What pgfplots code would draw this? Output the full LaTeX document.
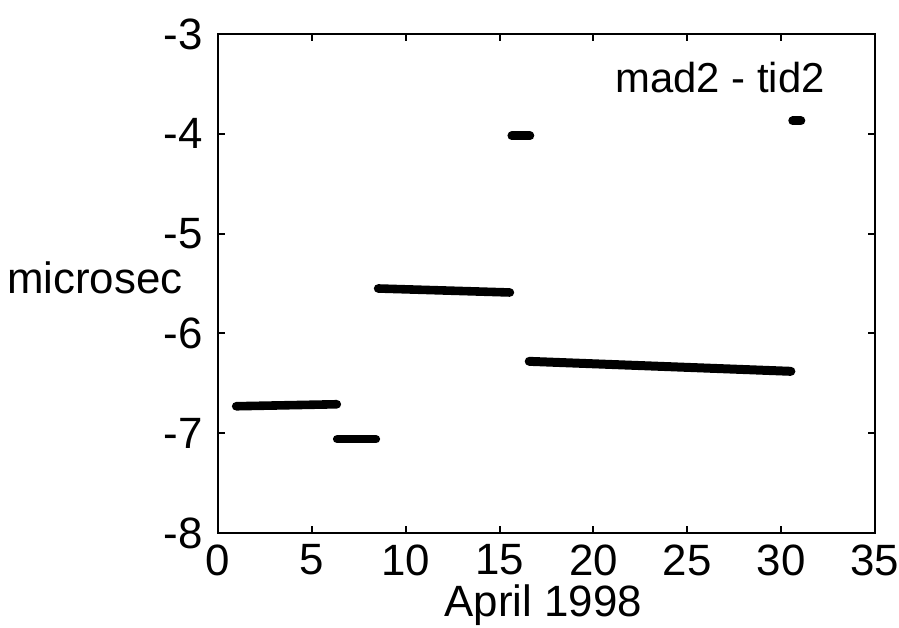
\documentclass[border=0pt]{standalone}
\usepackage{fontspec}
\setmainfont{Liberation Sans}
\usepackage{pgfplots}
\pgfplotsset{compat=1.18}
\begin{document}
\begin{tikzpicture}
\path[use as bounding box] (-109bp,-47.5bp) rectangle (340.5bp,266.5bp);
\begin{axis}[
  at={(0,0)}, anchor=south west,
  scale only axis, width=328.5bp, height=249.5bp,
  xmin=0, xmax=35, ymin=-8, ymax=-3,
  xtick={0,5,...,35}, ytick={-8,-7,...,-3},
  tick align=inside, major tick length=3.5bp,
  axis line style={line width=1.1bp}, tick style={line width=1bp, black},
  /pgf/number format/assume math mode=true,
  every tick label/.append style={font=\fontsize{22}{26}\selectfont},
  xticklabel style={inner sep=0pt, yshift=-5.5bp},
  yticklabel style={inner sep=2bp, xshift=-5.5bp},
  xlabel={April 1998},
  xlabel style={font=\fontsize{22}{26}\selectfont, at={(rel axis cs:0.495,0)}, anchor=base, yshift=-41.5bp, inner sep=0pt},
  clip=false,
]
\addplot[black, line width=4.3bp, line cap=round] coordinates {(0.97,-6.73) (6.33,-6.71)};
\addplot[black, line width=4.3bp, line cap=round] coordinates {(6.35,-7.06) (8.41,-7.06)};
\addplot[black, line width=4.3bp, line cap=round] coordinates {(8.53,-5.55) (15.55,-5.59)};
\addplot[black, line width=4.3bp, line cap=round] coordinates {(15.65,-4.02) (16.62,-4.02)};
\addplot[black, line width=4.5bp, line cap=round] coordinates {(16.58,-6.28) (30.52,-6.38)};
\addplot[black, line width=4.5bp, line cap=round] coordinates {(30.62,-3.87) (31.05,-3.87)};
\node[anchor=base east, inner sep=0pt, font=\fontsize{21}{25}\selectfont] at (rel axis cs:0.924,0.882) {mad2 - tid2};
\node[anchor=east, inner sep=0pt, font=\fontsize{22}{26}\selectfont] at (rel axis cs:0,0.511) [xshift=-17.5bp] {microsec};
\end{axis}
\end{tikzpicture}
\end{document}
